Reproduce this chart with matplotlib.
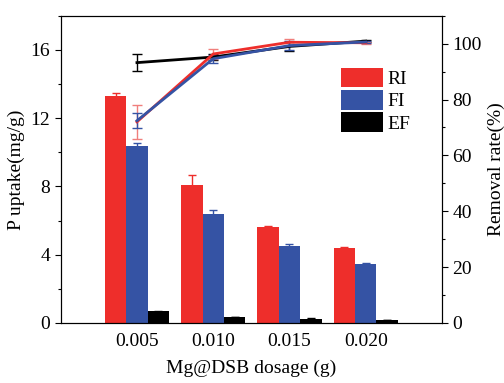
import matplotlib.pyplot as plt
import numpy as np
from matplotlib.ticker import MultipleLocator

plt.rcParams['font.family'] = 'Liberation Serif'
plt.rcParams['mathtext.fontset'] = 'stix'

# dosage categories
dosages = ['0.005', '0.010', '0.015', '0.020']

# P uptake (mg/g), bars on left axis
uptake_ri = [13.3, 8.1, 5.65, 4.38]
uptake_ri_err = [0.2, 0.55, 0.05, 0.08]
uptake_fi = [10.35, 6.4, 4.5, 3.47]
uptake_fi_err = [0.2, 0.2, 0.12, 0.04]
uptake_ef = [0.7, 0.35, 0.25, 0.18]
uptake_ef_err = [0.03, 0.02, 0.02, 0.02]

# removal rate (%), lines on right axis
rate_ri = [72.0, 96.3, 100.5, 100.3]
rate_ri_err = [6.1, 1.8, 1.0, 0.3]
rate_fi = [72.4, 94.6, 99.3, 100.6]
rate_fi_err = [2.7, 1.5, 1.5, 0.3]
rate_ef = [93.2, 95.2, 99.0, 100.9]
rate_ef_err = [3.1, 1.0, 1.6, 0.3]

red = '#ee2e2b'
blue = '#3553a4'
black = '#000000'

fig = plt.figure(figsize=(5.04, 3.83), dpi=100)
ax = fig.add_axes([0.1204, 0.1567, 0.7566, 0.8023])
ax2 = ax.twinx()

x = np.arange(1, len(dosages) + 1)
w = 0.28

ax.bar(x - w, uptake_ri, w, color=red, yerr=uptake_ri_err, ecolor=red,
       error_kw=dict(capsize=3, elinewidth=1, capthick=1), label='RI')
ax.bar(x, uptake_fi, w, color=blue, yerr=uptake_fi_err, ecolor=blue,
       error_kw=dict(capsize=3, elinewidth=1, capthick=1), label='FI')
ax.bar(x + w, uptake_ef, w, color=black, yerr=uptake_ef_err, ecolor=black,
       error_kw=dict(capsize=3, elinewidth=1, capthick=1), label='EF')

ax2.errorbar(x, rate_ef, yerr=rate_ef_err, color=black, lw=2, capsize=3.5,
             elinewidth=1, capthick=1)
ax2.errorbar(x, rate_ri, yerr=rate_ri_err, color=red, lw=2, capsize=3.5,
             elinewidth=1, capthick=1, ecolor='#f07f7c')
ax2.errorbar(x, rate_fi, yerr=rate_fi_err, color=blue, lw=2, capsize=3.5,
             elinewidth=1, capthick=1)

ax.set_xlim(0, 5)
ax.set_ylim(0, 18)
ax2.set_ylim(0, 110)
ax.set_xticks(x)
ax.set_xticklabels(dosages)

ax.yaxis.set_major_locator(MultipleLocator(4))
ax.yaxis.set_minor_locator(MultipleLocator(2))
ax2.yaxis.set_major_locator(MultipleLocator(20))
ax2.yaxis.set_minor_locator(MultipleLocator(10))

for a in (ax, ax2):
    a.tick_params(axis='both', which='major', direction='out', length=4, width=0.8, labelsize=14)
    a.tick_params(axis='both', which='minor', direction='out', length=2.5, width=0.8)
ax.tick_params(axis='x', length=0, pad=7)

ax.set_xlabel('Mg@DSB dosage (g)', fontsize=14, labelpad=7)
ax.set_ylabel('P uptake(mg/g)', fontsize=14, labelpad=4)
ax2.set_ylabel('Removal rate(%)', fontsize=14, labelpad=4)

ax.legend(loc='upper right', bbox_to_anchor=(0.938, 0.855), frameon=False, fontsize=14,
          handlelength=2.15, handleheight=1.15, labelspacing=0.1, handletextpad=0.25,
          borderaxespad=0)

fig.savefig('out.png', dpi=100)
